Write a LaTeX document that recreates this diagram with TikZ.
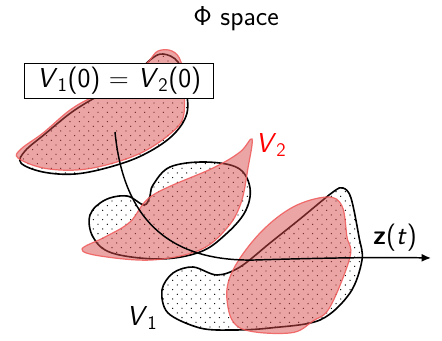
\documentclass[tikz,border=0pt]{standalone}
\usetikzlibrary{arrows.meta,patterns.meta}
\definecolor{pinkfill}{RGB}{215,75,75}
\definecolor{pinkedge}{RGB}{240,90,90}
\tikzdeclarepattern{
  name=sdots,
  type=uncolored,
  bottom left={(-1pt,-1pt)},
  top right={(8pt,8pt)},
  tile size={(7pt,7pt)},
  code={\fill (0pt,0pt) circle (0.5pt); \fill (3.5pt,3.5pt) circle (0.5pt);}
}
\tikzset{
  vone/.style={draw=black, line width=1.2pt, pattern=sdots, pattern color=black},
  vtwo/.style={draw=pinkedge, draw opacity=0.85, line width=0.9pt, fill=pinkfill, fill opacity=0.5},
  lbl/.style={font=\sffamily\fontsize{20.5}{24}\selectfont, inner sep=1pt},
  traj/.style={line width=1.1pt, -{Latex[length=7pt,width=6pt]}}
}
\begin{document}
\begin{tikzpicture}[x=0.75pt,y=-0.75pt]
\useasboundingbox (0,0) rectangle (442,341);

% top: V1(0) (black dotted) and V2(0) (pink)
\draw[vone] plot[smooth cycle, tension=0.6] coordinates {
  (163,54) (178,62) (185,85) (187,113) (172,136) (143,155) (110,167) (75,174) (43,172) (21,163)
  (25,151) (45,134) (72,112) (100,95) (130,80) (150,60)};
\draw[vtwo] plot[smooth cycle, tension=0.6] coordinates {
  (158,51) (172,51) (181,62) (184,90) (183,118) (170,134) (143,152) (110,164) (77,170) (43,168)
  (18,158) (21,149) (43,133) (70,110) (93,97) (127,83) (148,62)};

% middle: V1 (black dotted)
\draw[vone] plot[smooth cycle, tension=0.6] coordinates {
  (153,185) (170,167) (205,162) (238,168) (250,188) (245,212) (225,235) (200,252) (160,259)
  (112,253) (93,237) (90,215) (105,200) (127,196) (144,205) (150,196)};
% middle: V2 (pink)
\draw[vtwo] plot[smooth cycle, tension=0.6] coordinates {
  (252,139) (248,168) (241,203) (227,228) (200,250) (152,260) (100,256) (82,249)
  (105,237) (130,222) (153,195) (213,168) (240,152)};

% bottom: V1 (black dotted)
\draw[vone] plot[smooth cycle, tension=0.55] coordinates {
  (343,188) (351,198) (359,237) (362,260) (350,293) (320,320) (270,328) (233,330) (200,328)
  (168,313) (162,290) (173,273) (193,267) (217,275) (240,267) (270,243) (300,219) (333,192)};
% bottom: V2 (pink)
\draw[vtwo] plot[smooth cycle, tension=0.6] coordinates {
  (327,197) (342,206) (347,237) (350,257) (330,307) (313,321) (290,333) (240,328)
  (227,300) (233,270) (260,233) (293,207)};

% trajectory
\coordinate (zs) at (115,132);
\coordinate (ze) at (431,258);
\draw[traj] (zs) .. controls (123,215) and (165,262) .. (255,260)
  .. controls (320,258) and (380,257) .. (ze);

% labels
\node[lbl, draw, line width=1pt, fill=white, minimum width=189pt*0.75, minimum height=35pt*0.75, inner sep=0pt]
  (init) at (119,81) {\textit{V}\textsubscript{1}(0) = \textit{V}\textsubscript{2}(0)};
\node[lbl] (title) at (236,19) {Φ space};
\node[lbl, text=red] (v2) at (271,145) {\textit{V}\textsubscript{2}};
\node[lbl] (v1) at (142,318) {\textit{V}\textsubscript{1}};
\node[lbl] (z) at (395,238) {\textbf{z}(\textit{t})};
\end{tikzpicture}
\end{document}
